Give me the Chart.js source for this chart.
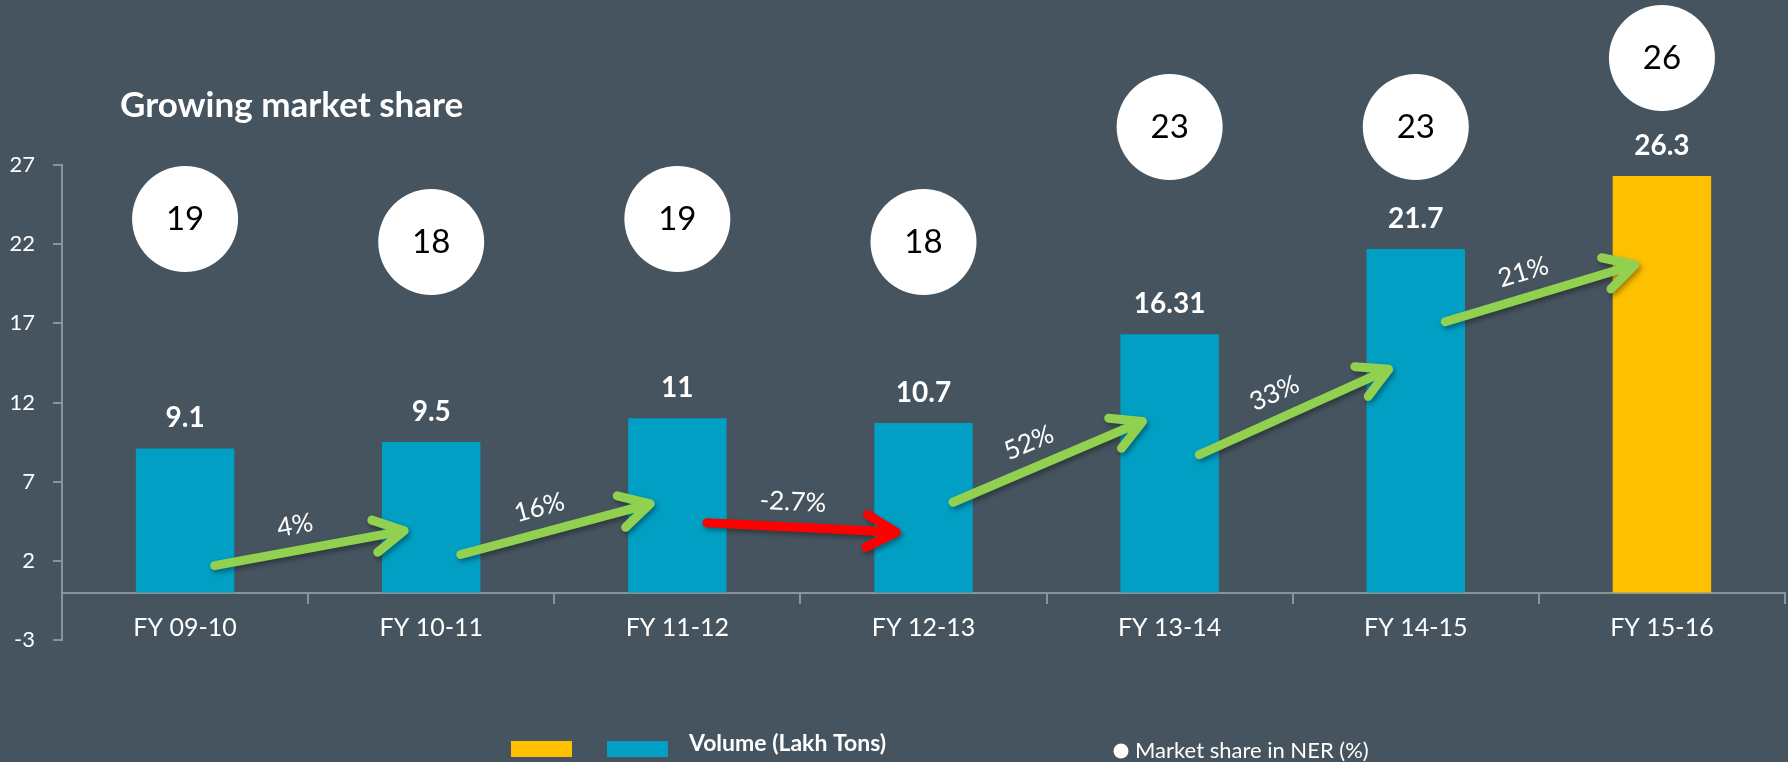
<!DOCTYPE html>
<html>
<head>
<meta charset="utf-8">
<script src="https://cdn.jsdelivr.net/npm/chart.js@4.4.1/dist/chart.umd.min.js"></script>
<style>
  html, body { margin: 0; padding: 0; background: #45545f; }
  #wrap { width: 1788px; height: 762px; }
</style>
</head>
<body>
<div id="wrap"><canvas id="chart" width="1788" height="762"></canvas></div>
<script>
// chart data
const years = ["FY 09-10", "FY 10-11", "FY 11-12", "FY 12-13", "FY 13-14", "FY 14-15", "FY 15-16"];
const volume = [9.1, 9.5, 11, 10.7, 16.31, 21.7, 26.3];
const marketShare = [19, 18, 19, 18, 23, 23, 26];
const yTicks = [-3, 2, 7, 12, 17, 22, 27];

// growth arrows between years (start / end heights in volume units)
const growthLabels = ["4%", "16%", "-2.7%", "52%", "33%", "21%"];
const arrowFrom = [1.7, 2.4, 4.4, 5.7, 8.7, 17.1];
const arrowTo = [3.9, 5.6, 3.8, 10.8, 14.1, 20.7];

const FONT = "Lato, 'Open Sans', sans-serif";
const AXIS_GREY = "#8a929a";
const BLUE = "#009fc3";
const YELLOW = "#ffc000";

const barColors = volume.map(function (v, i) {
    return i === volume.length - 1 ? YELLOW : BLUE;
});

function drawArrow(ctx, x0, y0, x1, y1, color) {
    const a = Math.atan2(y1 - y0, x1 - x0);
    const head = 34;
    const spread = 0.5;
    ctx.save();
    ctx.strokeStyle = color;
    ctx.lineWidth = 9;
    ctx.lineCap = "round";
    ctx.lineJoin = "round";
    ctx.shadowColor = "rgba(0,0,0,0.35)";
    ctx.shadowBlur = 5;
    ctx.shadowOffsetX = 2;
    ctx.shadowOffsetY = 3;
    ctx.beginPath();
    ctx.moveTo(x0, y0);
    ctx.lineTo(x1 - 5 * Math.cos(a), y1 - 5 * Math.sin(a));
    ctx.moveTo(x1 - head * Math.cos(a - spread), y1 - head * Math.sin(a - spread));
    ctx.lineTo(x1, y1);
    ctx.lineTo(x1 - head * Math.cos(a + spread), y1 - head * Math.sin(a + spread));
    ctx.stroke();
    ctx.restore();
}

const decorations = {
    id: "decorations",
    afterDatasetsDraw(chart) {
        const ctx = chart.ctx;
        const x = chart.scales.x;
        const y = chart.scales.y;

        // growth arrows + labels
        for (let i = 0; i < growthLabels.length; i++) {
            const x0 = x.getPixelForValue(i + 0.12);
            const y0 = y.getPixelForValue(arrowFrom[i]);
            const x1 = x.getPixelForValue(i + 0.89);
            const y1 = y.getPixelForValue(arrowTo[i]);
            const color = growthLabels[i].charAt(0) === "-" ? "#ff0000" : "#92d050";
            drawArrow(ctx, x0, y0, x1, y1, color);

            const a = Math.atan2(y1 - y0, x1 - x0);
            const mx = (x0 + x1) / 2 + Math.sin(a) * 25 - Math.cos(a) * 10;
            const my = (y0 + y1) / 2 - Math.cos(a) * 25 - Math.sin(a) * 10;
            ctx.save();
            ctx.translate(mx, my);
            ctx.rotate(a);
            ctx.fillStyle = "#ffffff";
            ctx.font = "26px " + FONT;
            ctx.textAlign = "center";
            ctx.textBaseline = "middle";
            ctx.fillText(growthLabels[i], 0, 0);
            ctx.restore();
        }

        // bar value labels
        const bars = chart.getDatasetMeta(0).data;
        ctx.save();
        ctx.fillStyle = "#ffffff";
        ctx.font = "bold 28px " + FONT;
        ctx.textAlign = "center";
        ctx.textBaseline = "middle";
        bars.forEach(function (bar, i) {
            ctx.fillText(String(volume[i]), bar.x, bar.y - 30);
        });
        ctx.restore();

        // market share circles (points placed by the y2 scale; drawn here so
        // the ones above the plot area are not skipped)
        const points = chart.getDatasetMeta(1).data;
        ctx.save();
        points.forEach(function (pt, i) {
            ctx.fillStyle = "#ffffff";
            ctx.beginPath();
            ctx.arc(pt.x, pt.y, 53, 0, Math.PI * 2);
            ctx.fill();
            ctx.fillStyle = "#000000";
            ctx.font = "33px " + FONT;
            ctx.textAlign = "center";
            ctx.textBaseline = "middle";
            ctx.fillText(String(marketShare[i]), pt.x, pt.y);
        });
        ctx.restore();
    },
    afterDraw(chart) {
        const ctx = chart.ctx;
        ctx.save();
        // title
        ctx.fillStyle = "#ffffff";
        ctx.font = "bold 35px " + FONT;
        ctx.textAlign = "left";
        ctx.textBaseline = "middle";
        ctx.fillText("Growing market share", 120, 106);

        // legend
        ctx.fillStyle = YELLOW;
        ctx.fillRect(511, 741, 61, 16);
        ctx.fillStyle = BLUE;
        ctx.fillRect(607, 741, 61, 16);
        ctx.fillStyle = "#ffffff";
        ctx.font = "bold 23px " + FONT;
        ctx.fillText("Volume (Lakh Tons)", 689, 744);

        ctx.beginPath();
        ctx.arc(1121, 751, 7.5, 0, Math.PI * 2);
        ctx.fill();
        ctx.font = "22px " + FONT;
        ctx.fillText("Market share in NER (%)", 1135, 751);
        ctx.restore();
    }
};

const ctx = document.getElementById("chart").getContext("2d");
const myChart = new Chart(ctx, {
    type: "bar",
    data: {
        labels: years,
        datasets: [{
            label: "Volume (Lakh Tons)",
            data: volume,
            backgroundColor: barColors,
            categoryPercentage: 1,
            barPercentage: 0.4,
            yAxisID: "y"
        }, {
            type: "line",
            label: "Market share in NER (%)",
            data: marketShare,
            yAxisID: "y2",
            showLine: false,
            clip: false,
            pointRadius: 0,
            pointHoverRadius: 0
        }]
    },
    options: {
        responsive: false,
        devicePixelRatio: 1,
        animation: false,
        events: [],
        layout: { padding: { top: 165, right: 3, bottom: 122, left: 0 } },
        plugins: {
            legend: { display: false },
            tooltip: { enabled: false }
        },
        scales: {
            x: {
                position: { y: 0 },
                offset: true,
                afterFit: function (scale) {
                    scale.paddingLeft = 0;
                    scale.paddingRight = 0;
                },
                grid: { offset: true, drawOnChartArea: false, tickLength: 10, color: AXIS_GREY, lineWidth: 2 },
                border: { display: true, color: AXIS_GREY, width: 2 },
                ticks: { color: "#ffffff", font: { family: FONT, size: 25 }, padding: 10, maxRotation: 0 }
            },
            y: {
                min: -3,
                max: 27,
                afterBuildTicks: function (scale) {
                    scale.ticks = yTicks.map(function (v) { return { value: v }; });
                },
                afterFit: function (scale) { scale.width = 62; },
                grid: { drawOnChartArea: false, tickLength: 9, color: AXIS_GREY, lineWidth: 2 },
                border: { display: true, color: AXIS_GREY, width: 2 },
                ticks: { color: "#ffffff", font: { family: FONT, size: 22 }, padding: 18 }
            },
            y2: {
                display: false,
                min: 0.7,
                max: 21.35
            }
        }
    },
    plugins: [decorations]
});
</script>
</body>
</html>
